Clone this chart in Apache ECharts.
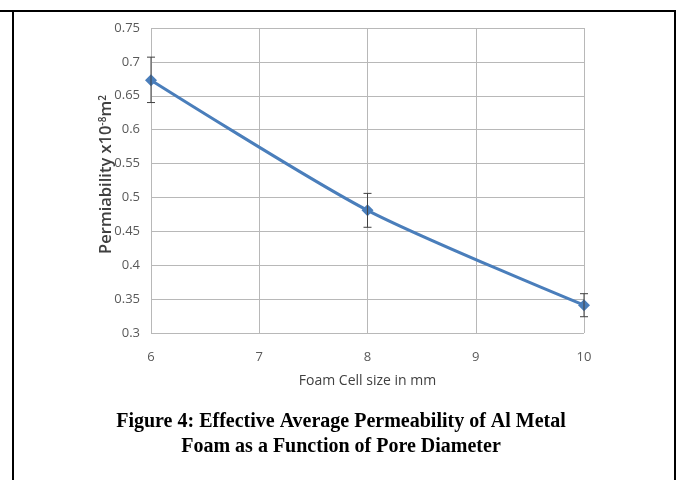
<!DOCTYPE html>
<html><head><meta charset="utf-8">
<script src="https://cdn.jsdelivr.net/npm/echarts@6/dist/echarts.min.js"></script>
<style>html,body{margin:0;padding:0;background:#fff}#c{width:681px;height:480px}</style>
</head><body><div id="c"></div>
<script>
const cellSize = [6, 8, 10];
const permeability = [0.673, 0.481, 0.341];
const errPlus = [0.034, 0.025, 0.017];
const errMinus = [0.033, 0.025, 0.017];
const xTicks = [6, 7, 8, 9, 10];
const yTicks = [0.3, 0.35, 0.4, 0.45, 0.5, 0.55, 0.6, 0.65, 0.7, 0.75];
const xTitle = 'Foam Cell size in mm';
const yTitle = '{b|Permiability x10}{s|-8}{b|m}{s|2}';
const caption = ['Figure 4: Effective Average Permeability of Al Metal', 'Foam as a Function of Pore Diameter'];

const chart = echarts.init(document.getElementById('c'), null, {renderer: 'canvas'});
const lineData = cellSize.map((x, i) => [x, permeability[i]]);
const errData = cellSize.map((x, i) => [x, permeability[i] - errMinus[i], permeability[i] + errPlus[i]]);
const axisFont = {color: '#595959', fontSize: 13, fontFamily: 'Open Sans'};

chart.setOption({
  animation: false,
  grid: {left: 151, right: 97, top: 28, bottom: 147},
  xAxis: {
    type: 'value', min: 6, max: 10, interval: 1,
    name: xTitle, nameLocation: 'middle', nameGap: 41, nameMoveOverlap: false,
    nameTextStyle: {color: '#404040', fontSize: 14, fontFamily: 'Open Sans'},
    axisLine: {show: false}, axisTick: {show: false},
    axisLabel: Object.assign({margin: 18}, axisFont),
    splitLine: {show: true, lineStyle: {color: '#b8b8b8', width: 1}}
  },
  yAxis: {
    type: 'value', min: 0.3, max: 0.75, interval: 0.05,
    name: yTitle, nameLocation: 'middle', nameGap: 36, nameRotate: 90, nameMoveOverlap: false,
    nameTextStyle: {
      padding: [0, 0, 0, 12],
      rich: {
        b: {color: '#404040', fontSize: 16.5, fontWeight: 600, fontFamily: 'Open Sans'},
        s: {color: '#404040', fontSize: 10, fontWeight: 600, fontFamily: 'Open Sans', verticalAlign: 'top', padding: [0, 0, 7, 0]}
      }
    },
    axisLine: {show: false}, axisTick: {show: false},
    axisLabel: Object.assign({margin: 11, formatter: v => String(+v.toFixed(2))}, axisFont),
    splitLine: {show: true, lineStyle: {color: '#b8b8b8', width: 1}}
  },
  series: [
    {
      type: 'line', data: lineData, smooth: 0.25,
      symbol: 'diamond', symbolSize: 12,
      lineStyle: {color: '#4a7ebb', width: 3},
      itemStyle: {color: '#4a7ebb'}, z: 3
    },
    {
      type: 'custom', data: errData, z: 4,
      renderItem: function (params, api) {
        const x = api.value(0);
        const lo = api.coord([x, api.value(1)]);
        const hi = api.coord([x, api.value(2)]);
        const w = 4;
        const st = {stroke: '#404040', lineWidth: 1};
        return {type: 'group', children: [
          {type: 'line', shape: {x1: lo[0], y1: lo[1], x2: hi[0], y2: hi[1]}, style: st},
          {type: 'line', shape: {x1: lo[0] - w, y1: lo[1], x2: lo[0] + w, y2: lo[1]}, style: st},
          {type: 'line', shape: {x1: hi[0] - w, y1: hi[1], x2: hi[0] + w, y2: hi[1]}, style: st}
        ]};
      }
    }
  ],
  graphic: [
    {type: 'polyline', shape: {points: [[13, 480], [13, 11], [675, 11], [675, 480]]},
     style: {stroke: '#000', lineWidth: 2, fill: null}},
    {type: 'line', shape: {x1: 0, y1: 11, x2: 13, y2: 11}, style: {stroke: '#000', lineWidth: 2}},
    {type: 'text', x: 341, y: 409,
     style: {text: caption.join('\n'), fontFamily: 'Liberation Serif', fontWeight: 'bold',
             fontSize: 20, lineHeight: 25, fill: '#000', align: 'center', verticalAlign: 'top'}}
  ]
});
</script></body></html>
